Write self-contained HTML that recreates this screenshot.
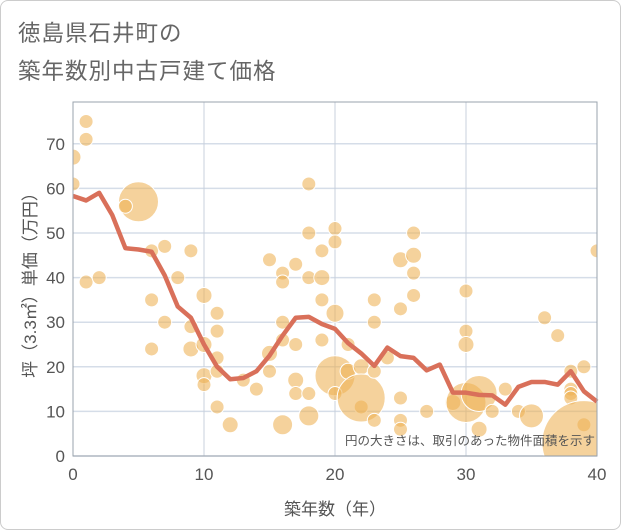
<!DOCTYPE html>
<html><head><meta charset="utf-8"><style>
body{margin:0;background:#fff;}
#wrap{position:relative;width:619px;height:528px;border:1px solid #ccc;border-radius:8px;overflow:hidden;font-family:"Liberation Sans","Noto Sans CJK JP",sans-serif;}
.t{position:absolute;left:17px;font-size:22.5px;color:#666;letter-spacing:1px;}
</style></head><body>
<div id="wrap">
<div class="t" style="top:15px">徳島県石井町の</div>
<div class="t" style="top:53px">築年数別中古戸建て価格</div>
<svg id="chart" width="621" height="530" style="position:absolute;left:0;top:0"></svg>
</div>
<script>
const lineYears=[0,1,2,3,4,5,6,7,8,9,10,11,12,13,14,15,16,17,18,19,20,21,22,23,24,25,26,27,28,29,30,31,32,33,34,35,36,37,38,39,40];
const lineValues=[58.3,57.3,59,54,46.6,46.3,45.8,40.5,33.5,31,25,20,17.2,17.5,19,22.5,27,31,31.2,29.6,28.5,25.3,23,20.2,24.3,22.4,22,19.2,20.5,14.2,14.2,13.7,13.6,11.5,15.5,16.6,16.6,16,19,14.5,12.2];
const bubbleYears=[0,0,1,1,1,2,5,4,6,7,9,6,8,7,6,9,9,10,11,11,10,10,10,11,11,11,12,13,14,15,15,15,16,16,16,16,17,17,17,17,16,18,18,18,19,19,19,19,18,18,20,20,20,20,20,21,21,22,22,22,23,23,23,24,23,25,25,26,26,26,26,25,25,25,27,30,30,30,29,30,31,31,32,33,34,35,36,37,38,38,38,38,39,39,39,40];
const bubbleValues=[67,61,75,71,39,40,57,56,46,47,46,35,40,30,24,29,24,36,32,28,25,18,16,22,19,11,7,17,15,23,19,44,41,39,30,26,43,25,17,14,7,61,50,40,46,40,35,26,14,9,51,48,32,18,14,25,19,20,11,13,35,30,8,22,19,44,33,50,45,41,36,13,8,6,10,37,28,25,12,12,14,6,10,15,10,9,31,27,19,15,14,13,20,7,3,46];
const bubbleSizes=[8,7,7,7,7,7,20,7,7,7,7,7,7,7,7,7,8,8,7,7,8,8,7,7,7,7,8,7,7,8,7,7,7,7,7,7,7,7,8,7,10,7,7,7,7,8,7,7,7,10,7,7,9,20,7,7,8,8,7,24,7,7,7,7,7,8,7,7,8,7,7,7,7,7,7,7,7,8,8,20,18,8,7,7,7,12,7,7,7,7,7,7,7,7,42,7];
const xTicks=[0,10,20,30,40];
const yTicks=[0,10,20,30,40,50,60,70];
const L=72,R=596,T=101,B=455;
const xs=v=>L+v*(R-L)/40;
const ys=v=>B-v*4.46;
const svg=document.getElementById('chart');
const NS='http://www.w3.org/2000/svg';
function mk(tag,at,parent){const e=document.createElementNS(NS,tag);for(const k in at)e.setAttribute(k,at[k]);(parent||svg).appendChild(e);return e;}
const defs=mk('defs',{});const cp=mk('clipPath',{id:'pc'},defs);mk('rect',{x:L,y:T,width:R-L,height:B-T},cp);
yTicks.forEach(v=>{const g=mk('line',{x1:L,x2:R,y1:ys(v),y2:ys(v),stroke:'#d5dde8','stroke-width':1.5});


const t=mk('text',{x:L-8,y:ys(v)+6,'text-anchor':'end','font-size':17,fill:'#555'});t.textContent=v;

});
xTicks.forEach(v=>{const g=mk('line',{x1:xs(v),x2:xs(v),y1:T,y2:B,stroke:'#c8d0dc','stroke-width':1});


const t=mk('text',{x:xs(v),y:B+24,'text-anchor':'middle','font-size':17,fill:'#555'});t.textContent=v;

});
const bg=mk('g',{'clip-path':'url(#pc)'});


bubbleYears.forEach((yr,i)=>{const c=mk('circle',{cx:xs(yr),cy:ys(bubbleValues[i]),r:bubbleSizes[i],fill:'rgba(238,178,85,0.58)',stroke:'#fff','stroke-width':1},bg);

});
const p=mk('polyline',{points:lineYears.map((yr,i)=>xs(yr)+','+ys(lineValues[i])).join(' '),fill:'none',stroke:'#d9705a','stroke-width':4.5,'stroke-linejoin':'round'});


const f=mk('rect',{x:L,y:T,width:R-L,height:B-T,fill:'none',stroke:'#9aa3ad','stroke-width':1});


const n=mk('text',{x:594,y:444,'text-anchor':'end','font-size':12.5,fill:'#555'});n.textContent='円の大きさは、取引のあった物件面積を示す';


const xt=mk('text',{x:(L+R)/2,y:514,'text-anchor':'middle','font-size':17,fill:'#555'});xt.textContent='築年数（年）';


const yt=mk('text',{x:0,y:0,'text-anchor':'middle','font-size':17,fill:'#555',transform:'translate(35,280) rotate(-90)'});yt.textContent='坪（3.3㎡）単価（万円）';


</script>
</body></html>
